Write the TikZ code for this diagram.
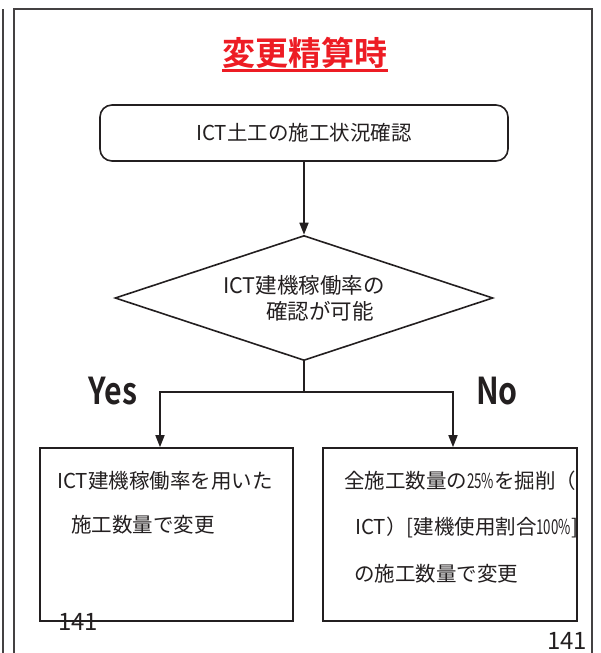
\documentclass[tikz,border=0pt]{standalone}
\usepackage{graphicx}
\usepackage{fontspec}
\setmainfont{Noto Sans CJK JP}[BoldFont={Noto Sans CJK JP Bold}]
\usetikzlibrary{arrows.meta,shapes.geometric}
\definecolor{titlered}{RGB}{237,28,36}
\definecolor{ink}{RGB}{35,31,32}
\newcommand{\narrow}[1]{\scalebox{0.65}[1]{#1}}

\begin{document}
\begin{tikzpicture}[x=1pt, y=-1pt,
  box/.style={draw=ink, line width=1.6pt, inner sep=0pt, text=ink},
  body/.style={font=\fontsize{20.5}{25}\selectfont, text=ink, inner sep=0pt, anchor=west},
  wire/.style={draw=ink, line width=1.6pt},
  flow/.style={wire, -{Triangle[length=12pt,width=9pt]}},
  yesno/.style={font=\fontsize{37}{40}\bfseries, text=ink, inner sep=0pt},
  pageno/.style={font=\fontsize{24}{26}\selectfont, text=ink, inner sep=0pt}]
\useasboundingbox (0,0) rectangle (600,653);

% ---- page frame ------------------------------------------------------------
\draw[ink!85, line width=2pt] (3,9) -- (3,653);
\draw[ink!85, line width=2pt] (13.5,653) -- (13.5,9) -- (592,9) -- (592,653);

% ---- title ---------------------------------------------------------------
\node[font=\fontsize{33}{36}\bfseries, text=titlered, inner sep=0pt] (title) at (305,53) {変更精算時};
\draw[titlered, line width=3pt] ([yshift=-2pt]title.south west) -- ([yshift=-2pt]title.south east);

% ---- flow boxes ----------------------------------------------------------
\node[box, rounded corners=12pt, minimum width=408pt, minimum height=56pt,
      font=\fontsize{20.5}{25}\selectfont] (check) at (304,133) {ICT土工の施工状況確認};
\node[box, diamond, aspect=3, minimum width=378pt, minimum height=125pt, align=left,
      font=\fontsize{21.5}{26}\selectfont] (decide) at (304,298)
  {ICT建機稼働率の\\\hspace*{2em}確認が可能};
\node[box, minimum width=253pt, minimum height=173pt] (yesbox) at (166.5,534.5) {};
\node[box, minimum width=254pt, minimum height=173pt] (nobox) at (450,534.5) {};

% ---- box texts -----------------------------------------------------------
\node[body] (yesA) at (57,481) {ICT建機稼働率を用いた};
\node[body] (yesB) at (71,525) {施工数量で変更};
\node[body] (noA) at (344,481) {全施工数量の\narrow{25\%}を掘削（};
\node[body] (noB) at (355,527) {ICT）[建機使用割合\narrow{100\%}]};
\node[body] (noC) at (354,574) {の施工数量で変更};

% ---- connectors ----------------------------------------------------------
\coordinate (split) at (304,392);
\draw[flow] (check.south) -- (decide.north);
\draw[wire] (decide.south) -- (split);
\draw[flow] (split) -| ([xshift=-6.5pt]yesbox.north);
\draw[flow] (split) -| ([xshift=3pt]nobox.north);

% ---- branch labels and page numbers --------------------------------------
\node[yesno] (yes) at (113,391) {\scalebox{0.82}[1]{Yes}};
\node[yesno] (no) at (497,391) {\scalebox{0.82}[1]{No}};
\node[pageno] (pgA) at (78,622) {141};
\node[pageno] (pgB) at (567,641) {141};
\end{tikzpicture}
\end{document}
